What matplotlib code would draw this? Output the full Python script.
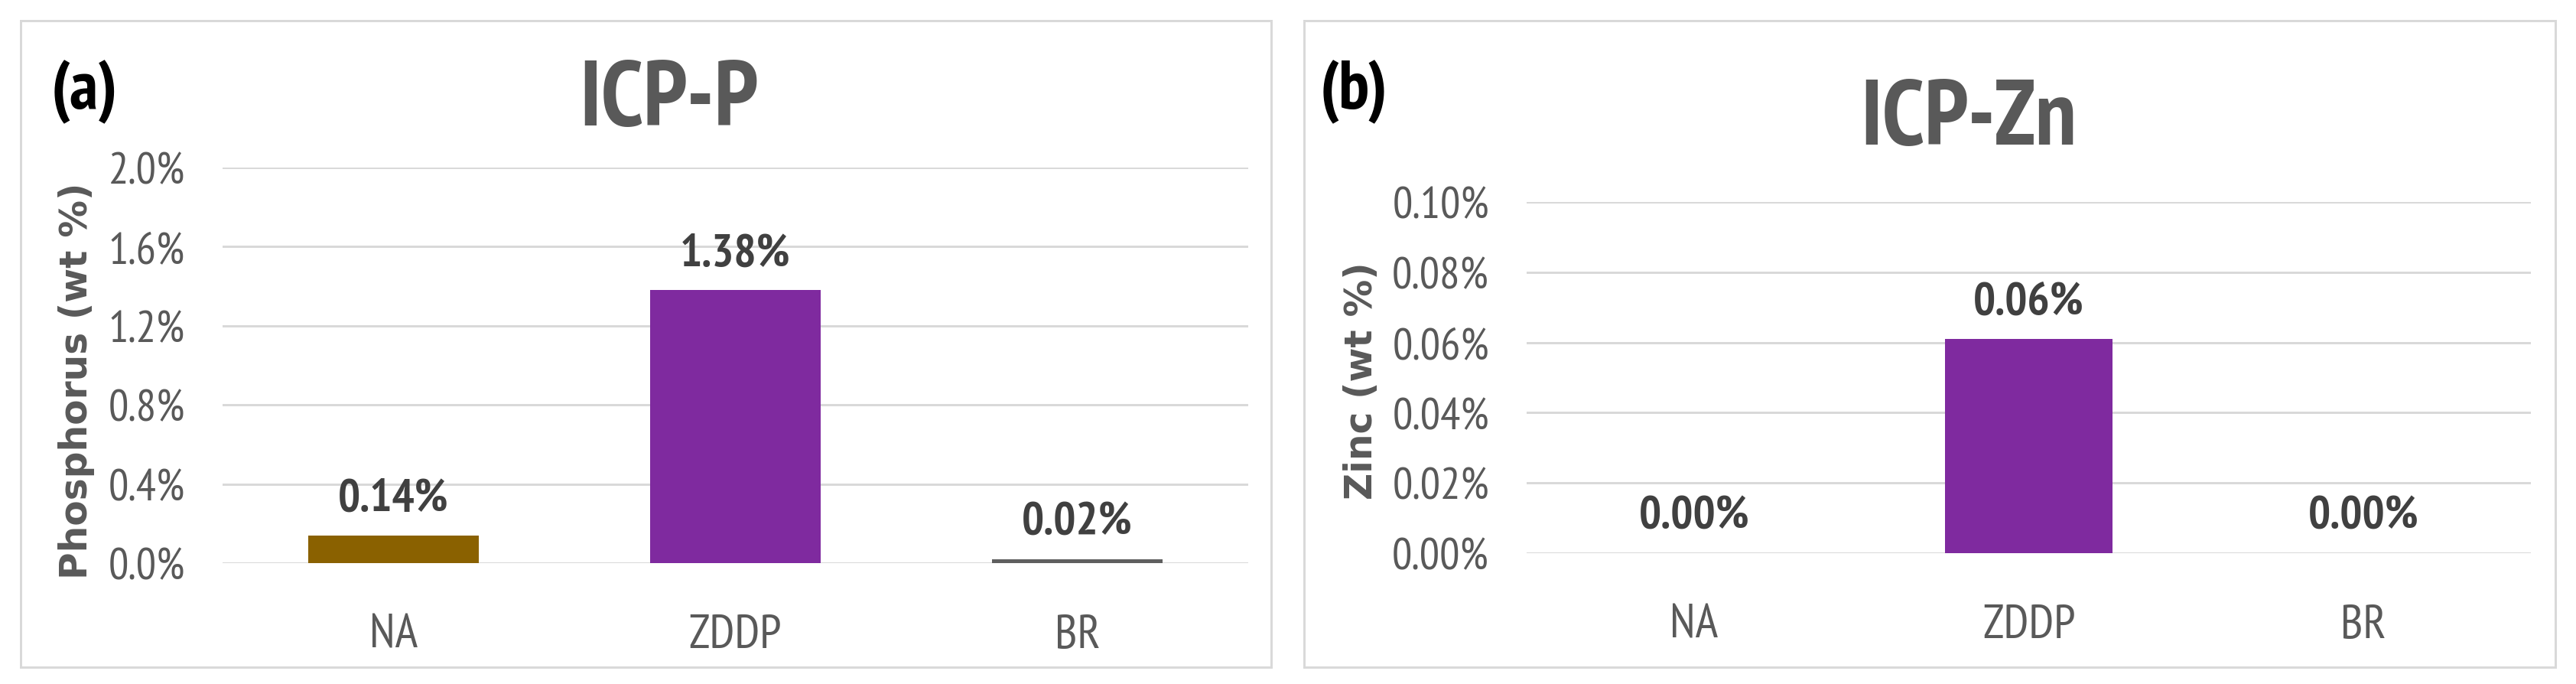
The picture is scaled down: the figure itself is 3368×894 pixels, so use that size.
import matplotlib.pyplot as plt
from matplotlib.patches import Rectangle
from matplotlib.ticker import FuncFormatter

# data
categories = ["NA", "ZDDP", "BR"]
phosphorus = [0.14, 1.38, 0.02]
zinc = [0.00, 0.061, 0.00]
bar_colors = ["#8A6100", "#7F2A9F", "#5F5F5F"]

W, H = 3368, 895
DPI = 100

NARROW = ["PT Sans Narrow", "Carlito", "DejaVu Sans"]
GRAY = "#595959"
DARK = "#404040"


def px(v):
    # pixels -> points
    return v * 72 / DPI


def box(x0, y0, x1, y1):
    # pixel box (from top-left) -> figure fraction rect
    return [x0 / W, 1 - y1 / H, (x1 - x0) / W, (y1 - y0) / H]


fig = plt.figure(figsize=(W / DPI, H / DPI), dpi=DPI)
fig.patch.set_facecolor("white")

# light gray frames around each panel
for x0, x1 in [(27, 1662), (1705, 3341)]:
    fig.patches.append(
        Rectangle(
            (x0 / W, 1 - 873 / H),
            (x1 - x0) / W,
            (873 - 28) / H,
            transform=fig.transFigure,
            fill=False,
            edgecolor="#D9D9D9",
            linewidth=px(3),
        )
    )


def panel(rect, values, ymax, step, fmt, letter, letter_x, title, title_x, title_y,
          ylabel, ylabel_x):
    ax = fig.add_axes(box(*rect))

    x = range(len(categories))
    ax.bar(x, values, width=0.5, color=bar_colors, zorder=3)

    ax.set_xlim(-0.5, len(categories) - 0.5)
    ax.set_ylim(0, ymax)
    n = int(round(ymax / step))
    ax.set_yticks([i * step for i in range(n + 1)])
    ax.yaxis.set_major_formatter(FuncFormatter(lambda v, p: fmt.format(v)))

    ax.grid(axis="y", color="#D9D9D9", linewidth=px(3), zorder=0)
    for s in ax.spines.values():
        s.set_visible(False)

    ax.set_xticks(list(x))
    ax.set_xticklabels(categories)
    ax.tick_params(axis="both", length=0, colors=GRAY)
    ax.tick_params(axis="y", pad=px(49))
    ax.tick_params(axis="x", pad=px(66))
    for t in ax.get_yticklabels():
        t.set_fontfamily(NARROW)
        t.set_fontsize(42)
    for t in ax.get_xticklabels():
        t.set_fontfamily(NARROW)
        t.set_fontsize(45)

    for i, v in enumerate(values):
        ax.annotate(
            f"{v:.2f}%",
            (i, v),
            xytext=(0, px(33)),
            textcoords="offset points",
            ha="center",
            va="baseline",
            fontsize=44,
            fontweight="bold",
            family=NARROW,
            color=DARK,
        )

    fig.text(letter_x / W, 1 - 142 / H, letter, fontsize=65, fontweight="bold",
             family=NARROW, color="black", ha="left", va="baseline")
    fig.text(title_x / W, 1 - title_y / H, title, fontsize=87, fontweight="bold",
             family=NARROW, color=GRAY, ha="center", va="baseline")
    fig.text(ylabel_x / W, 1 - 498 / H, ylabel, rotation=90, fontsize=35,
             fontweight="bold", family="DejaVu Sans", color=GRAY,
             ha="center", va="center")
    return ax


panel((291, 220, 1632, 737), phosphorus, 2.0, 0.4, "{:.1f}%",
      "(a)", 67, "ICP-P", 875, 164, "Phosphorus (wt %)", 100)
panel((1996, 265, 3309, 724), zinc, 0.10, 0.02, "{:.2f}%",
      "(b)", 1726, "ICP-Zn", 2574, 189, "Zinc (wt %)", 1780)

fig.savefig("out.png", dpi=DPI)
plt.close(fig)
